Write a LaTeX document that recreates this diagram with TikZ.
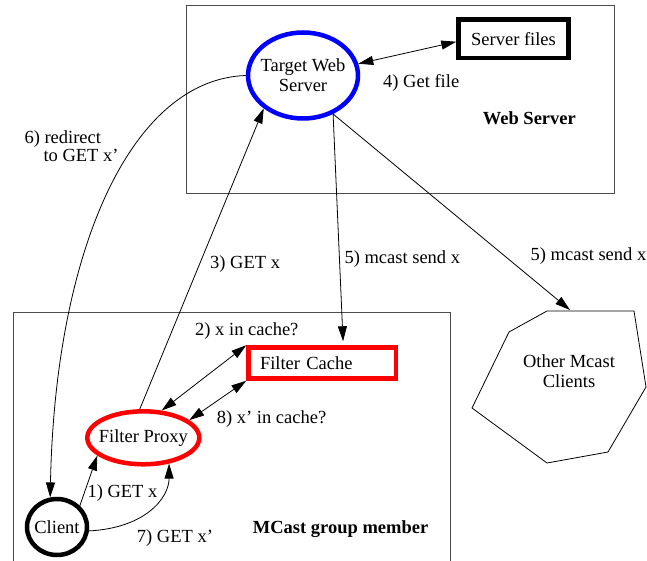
\documentclass[tikz,border=0pt]{standalone}
\usepackage{fontspec}
\setmainfont{Liberation Serif}
\usetikzlibrary{arrows.meta,shapes.geometric}
\begin{document}
\begin{tikzpicture}[x=1pt,y=-1pt,
  every node/.style={font=\fontsize{18.5}{20}\selectfont, inner sep=0pt},
  lbl/.style={anchor=base west},
  bold/.style={anchor=base west, font=\fontsize{18.5}{20}\selectfont\bfseries},
  tip/.style={Triangle[length=15pt,width=9pt]},
  conn/.style={line width=0.8pt, -{Triangle[length=15pt,width=9pt]}},
  dconn/.style={line width=0.8pt, {Triangle[length=15pt,width=9pt]}-{Triangle[length=15pt,width=9pt]}},
  region/.style={draw=black!70, line width=1pt},
  oval/.style={ellipse, draw, line width=4.5pt},
  thickbox/.style={rectangle, draw, line width=4.5pt},
  ovaltext/.style={align=center}
]
\useasboundingbox (0,0) rectangle (647,561);

% regions
\draw[region] (186,6) rectangle (614,194);
\draw[region] (13,561) -- (13,312) -- (450,312) -- (450,561);

% nodes
\node[oval, draw=blue, minimum width=110, minimum height=86,
      label={[ovaltext]center:Target Web\\Server}] (target) at (303,75.5) {};
\node[thickbox, minimum width=110, minimum height=38.5] (files) at (513.5,38.75) {Server files};
\node[thickbox, draw=red, minimum width=147.5, minimum height=31, text width=124.5,
      align=left, inner xsep=11.5pt, inner ysep=0pt] (cache) at (322.25,363) {Filter Cache};
\node[oval, draw=red, minimum width=112, minimum height=53,
      label={center:Filter Proxy}] (proxy) at (143.3,437.8) {};
\node[oval, minimum width=60, minimum height=56,
      label={center:Client}] (client) at (57,527) {};

% other mcast clients (heptagon)
\draw[line width=0.8pt] (547,311) -- (634,311) -- (646,387) -- (608,452) -- (547,463) -- (472,408) -- (509,332) -- cycle;
\node[ovaltext] (other) at (569,371) {Other Mcast\\Clients};
\coordinate (othertop) at (570,310);

% connectors
\draw[dconn] (target.12) -- (files.183);
\draw[conn] (target.180) .. controls +(-115,4) and +(5,-247) .. (client.103);
\draw[conn] (proxy.97) -- (target.220);
\draw[conn, shorten >=4pt] (target.-52) -- ([xshift=21pt]cache.north);
\draw[conn] (target.-52) -- (othertop);
\draw[dconn] (proxy.56) -- (cache.north west);
\draw[dconn] (proxy.21) -- (cache.south west);
\draw[conn] (client.43) -- (proxy.201);
\draw[conn] (client.-7) .. controls +(57,-3) and +(0,34) .. (proxy.-45);

% labels
\node[lbl] (l4) at (383,88) {4) Get file};
\node[bold] (lws) at (482.7,125) {Web Server};
\node[lbl] (l6a) at (24.3,143.3) {6) redirect};
\node[lbl] (l6b) at (43.3,161.7) {to GET x'};
\node[lbl] (l3) at (210,268) {3) GET x};
\node[lbl] (l5a) at (344.3,263.3) {5) mcast send x};
\node[anchor=base east] (l5b) at (646.5,260.7) {5) mcast send x};
\node[lbl] (l2) at (195,335) {2) x in cache?};
\node[lbl] (l8) at (216.7,423.3) {8) x' in cache?};
\node[lbl] (l1) at (87.3,497.3) {1) GET x};
\node[lbl] (l7) at (136.7,542.7) {7) GET x'};
\node[bold] (lmc) at (252.7,533) {MCast group member};
\end{tikzpicture}
\end{document}
